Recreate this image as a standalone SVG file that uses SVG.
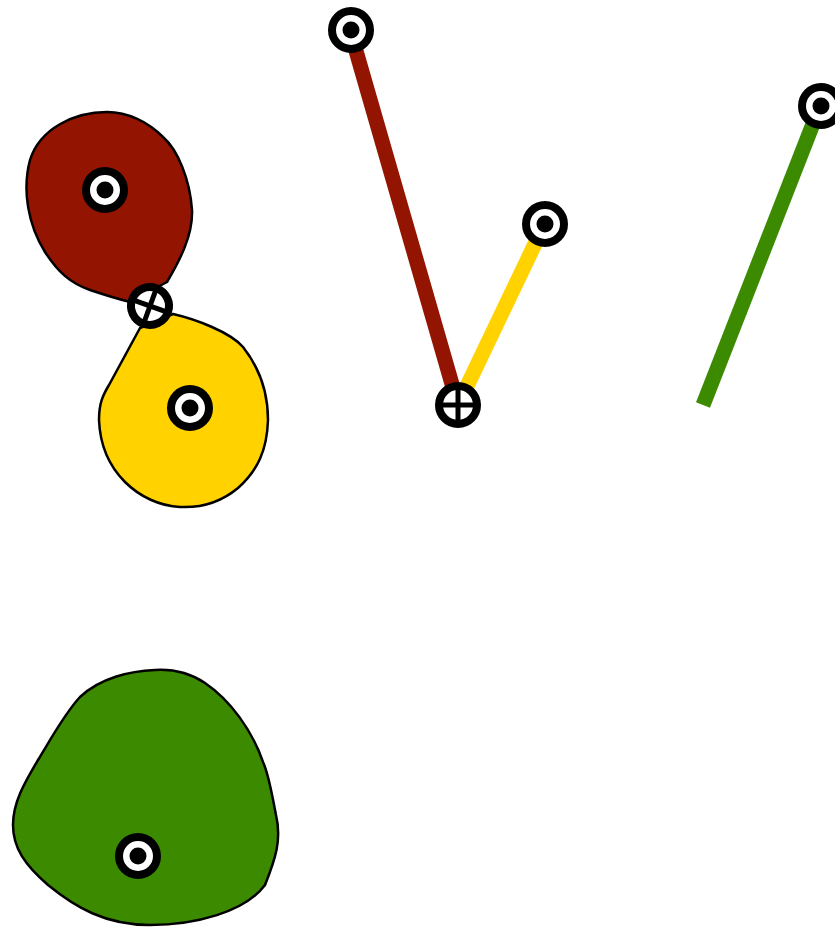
<svg xmlns="http://www.w3.org/2000/svg" width="835" height="927" viewBox="0 0 835 927">
<style>
.blob{stroke:#000;stroke-width:2.5;stroke-linejoin:round}
.red{fill:#931400}.yel{fill:#FFD200}.grn{fill:#3C8A00}
.line{stroke-width:15;fill:none}
.ring{fill:#fff;stroke:#000;stroke-width:8}
.dot{fill:#000}
.cross{stroke:#000;stroke-width:5}
</style>
<defs>
<g id="target"><circle r="19" class="ring"/><circle r="8.5" class="dot"/></g>
<g id="junction"><circle r="19" class="ring"/><line x1="0" y1="-16" x2="0" y2="16" class="cross"/><line x1="-16" y1="0" x2="16" y2="0" class="cross"/></g>
</defs>
<g id="connectors">
<line x1="350" y1="30" x2="458" y2="405" class="line" stroke="#931400"/>
<line x1="545" y1="223" x2="458" y2="405" class="line" stroke="#FFD200"/>
<line x1="820" y1="106" x2="703" y2="405" class="line" stroke="#3C8A00"/>
</g>
<g id="red-region">
<path class="blob red" d="M107,112 C75,112 40,128 30,160 C22,190 28,225 45,252 C58,272 70,283 90,290 C105,295 118,299 130,302 L167,282 C180,260 193,235 192,210 C190,180 178,150 163,137 C148,122 128,112 107,112 Z"/>
<use href="#target" x="105" y="190"/>
</g>
<g id="yellow-region">
<path class="blob yel" d="M173,314 C195,319 230,332 243,347 C258,366 268,390 268,420 C267,450 258,470 238,488 C220,503 200,508 180,507 C160,506 140,497 125,482 C108,465 100,445 99,420 C99,403 103,395 109,385 L140,328 Z"/>
<use href="#target" x="190" y="408"/>
</g>
<g id="green-region">
<path class="blob grn" d="M155,670 C130,671 100,678 80,697 C65,713 52,737 38,760 C25,782 13,802 13,825 C13,848 25,865 48,885 C75,907 105,925 150,925 C195,925 245,912 265,885 C275,860 282,840 276,815 C272,795 269,775 263,762 C252,730 230,700 205,683 C190,673 172,669 155,670 Z"/>
<use href="#target" x="138" y="856"/>
</g>
<g id="junction-left"><use href="#junction" transform="translate(150,306) rotate(20)"/></g>
<g id="junction-mid"><use href="#junction" x="458" y="405"/></g>
<g id="top-red"><use href="#target" x="351" y="30"/></g>
<g id="top-yellow"><use href="#target" x="545" y="224"/></g>
<g id="top-green"><use href="#target" x="821" y="106"/></g>
</svg>
